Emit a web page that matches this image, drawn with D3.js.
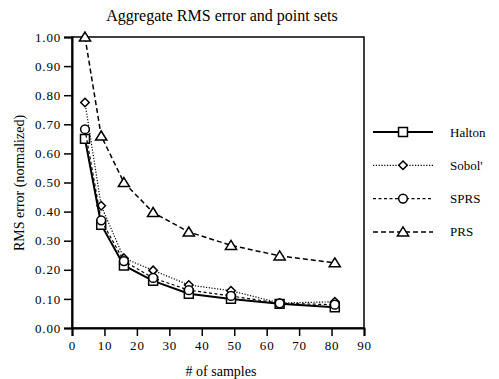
<!DOCTYPE html>
<html><head><meta charset="utf-8">
<script src="https://cdn.jsdelivr.net/npm/d3@7"></script>
<style>body{margin:0;background:#fff;} svg{display:block;} svg text{font-family:"Times New Roman","Liberation Serif",serif !important;fill:#000;}</style>
</head><body><svg id="c" width="499" height="379"></svg>
<script>
const samples = [4, 9, 16, 25, 36, 49, 64, 81];
const halton = [0.65, 0.355, 0.215, 0.162, 0.118, 0.10, 0.083, 0.071];
const sobol = [0.775, 0.42, 0.24, 0.198, 0.148, 0.128, 0.086, 0.09];
const sprs = [0.683, 0.37, 0.23, 0.172, 0.13, 0.11, 0.085, 0.08];
const prs = [1.00, 0.66, 0.50, 0.397, 0.33, 0.284, 0.248, 0.224];
const xTicks = [0, 10, 20, 30, 40, 50, 60, 70, 80, 90];
const yTicks = [0, 0.1, 0.2, 0.3, 0.4, 0.5, 0.6, 0.7, 0.8, 0.9, 1.0];
const seriesNames = ["Halton", "Sobol'", "SPRS", "PRS"];

const FONT = "Times New Roman, Liberation Serif, serif";
const diamond = {draw(ctx, size) { const r = Math.sqrt(size / 2); ctx.moveTo(0, -r); ctx.lineTo(r, 0); ctx.lineTo(0, r); ctx.lineTo(-r, 0); ctx.closePath(); }};
const triangle = {draw(ctx, size) { const h = Math.sqrt(size) * 0.95, w = h * 0.62; ctx.moveTo(0, -h * 0.55); ctx.lineTo(w, h * 0.45); ctx.lineTo(-w, h * 0.45); ctx.closePath(); }};

const series = [
  {name: seriesNames[0], vals: halton, dash: null, w: 2, lw: 2.2, sym: d3.symbolSquare, size: 80},
  {name: seriesNames[1], vals: sobol, dash: "1.2,1.6", w: 1.2, lw: 1.2, sym: diamond, size: 36},
  {name: seriesNames[2], vals: sprs, dash: "3,2.5", w: 1.2, lw: 1.2, sym: d3.symbolCircle, size: 60},
  {name: seriesNames[3], vals: prs, dash: "5,3", w: 1.5, lw: 1.5, sym: triangle, size: 90}
];

const svg = d3.select("#c");
const L = 72, R = 364, T = 37, B = 328;
const x = d3.scaleLinear().domain([0, 90]).range([L, R]);
const y = d3.scaleLinear().domain([0, 1]).range([B, T]);

svg.append("rect").attr("x", L).attr("y", T).attr("width", R - L).attr("height", B - T)
  .attr("fill", "none").attr("stroke", "#000").attr("stroke-width", 1.5);

const xa = svg.append("g").attr("transform", `translate(0,${B})`)
  .call(d3.axisBottom(x).tickValues(xTicks).tickSize(8).tickPadding(5).tickFormat(d3.format("d")));
const ya = svg.append("g").attr("transform", `translate(${L},0)`)
  .call(d3.axisLeft(y).tickValues(yTicks).tickSize(8).tickPadding(3).tickFormat(d3.format(".2f")));
[xa, ya].forEach(a => {
  a.attr("font-family", FONT).attr("font-size", 13);
  a.select(".domain").attr("stroke-width", 2);
  a.selectAll(".tick line").attr("stroke-width", 1.5);
  a.selectAll("text").attr("font-size", 13).attr("font-family", FONT).attr("letter-spacing", 0.8);
});

svg.append("text").attr("x", 222).attr("y", 21).attr("text-anchor", "middle").attr("font-size", 16).attr("font-family", FONT)
  .text("Aggregate RMS error and point sets");
svg.append("text").attr("x", 221).attr("y", 376).attr("text-anchor", "middle").attr("font-size", 14).attr("font-family", FONT)
  .text("# of samples");
svg.append("text").attr("transform", "translate(24,183) rotate(-90)").attr("text-anchor", "middle").attr("font-size", 14).attr("font-family", FONT)
  .text("RMS error (normalized)");

const line = d3.line().x((d, i) => x(samples[i])).y(d => y(d));
series.forEach(s => {
  svg.append("path").datum(s.vals).attr("d", line).attr("fill", "none").attr("stroke", "#000")
    .attr("stroke-width", s.w).attr("stroke-dasharray", s.dash);
  svg.selectAll(null).data(s.vals).enter().append("path")
    .attr("d", d3.symbol().type(s.sym).size(s.size))
    .attr("transform", (d, i) => `translate(${x(samples[i])},${y(d)})`)
    .attr("fill", "#fff").attr("stroke", "#000").attr("stroke-width", 1.5);
});

const lg = svg.append("g");
series.forEach((s, i) => {
  const yy = 132 + i * 33.3;
  lg.append("line").attr("x1", 373).attr("x2", 433).attr("y1", yy).attr("y2", yy)
    .attr("stroke", "#000").attr("stroke-width", s.lw).attr("stroke-dasharray", s.dash);
  lg.append("path").attr("d", d3.symbol().type(s.sym).size(s.size))
    .attr("transform", `translate(403,${yy})`).attr("fill", "#fff").attr("stroke", "#000").attr("stroke-width", 1.5);
  lg.append("text").attr("x", 450).attr("y", yy + 4.5).attr("font-size", 13).attr("font-family", FONT).text(s.name);
});
</script></body></html>
